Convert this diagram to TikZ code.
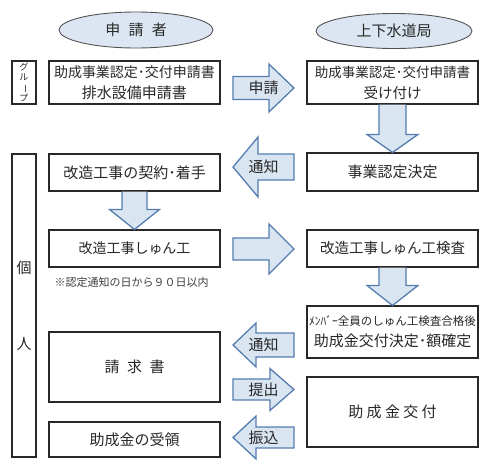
\documentclass[tikz,border=0pt]{standalone}
\usepackage{fontspec}
\setmainfont{Noto Sans CJK JP}
\usetikzlibrary{calc,positioning,shapes.geometric}
\definecolor{sumi}{RGB}{40,40,40}
\definecolor{yajiblue}{RGB}{85,125,175}
\definecolor{yajifill}{RGB}{218,229,242}
\definecolor{daenfill}{RGB}{220,230,242}
\tikzset{
  hako/.style={
    draw=sumi,
    line width=1.1pt,
    fill=white,
    minimum width=171pt,
    align=center,
    inner sep=2pt,
    text=sumi,
    font=\fontsize{15}{21}\selectfont
  },
  tate/.style={
    draw=sumi,
    line width=1.1pt,
    minimum width=24pt,
    align=center,
    inner sep=0pt,
    text=sumi
  },
  daen/.style={
    ellipse,
    draw=sumi!80,
    line width=0.9pt,
    fill=daenfill,
    inner sep=0pt,
    text=sumi,
    font=\fontsize{15}{18}\selectfont
  },
  yaji/.style={
    draw=yajiblue,
    line width=1.3pt,
    fill=yajifill
  },
  yajimoji/.style={
    inner sep=0pt,
    text=sumi,
    font=\fontsize{15}{18}\selectfont
  },
  chui/.style={
    inner sep=0pt,
    text=sumi!90,
    font=\fontsize{11}{13}\selectfont
  }
}
% block arrows: from, to, y, half shaft, half head, head length, name, label
\newcommand{\migiyaji}[8]{%
  \draw[yaji] let \p1=(#1.east), \p2=(#2.west), \p3=(0,#3) in
    (\x1+12.5pt,\y3+#4pt) -- (\x2-12.5pt-#6pt,\y3+#4pt) -- (\x2-12.5pt-#6pt,\y3+#5pt)
    -- (\x2-12.5pt,\y3) -- (\x2-12.5pt-#6pt,\y3-#5pt) -- (\x2-12.5pt-#6pt,\y3-#4pt)
    -- (\x1+12.5pt,\y3-#4pt) -- cycle
    ({(\x1+\x2)/2},\y3) node[yajimoji] (#7) {#8};}
\newcommand{\hidariyaji}[8]{%
  \draw[yaji] let \p1=(#1.east), \p2=(#2.west), \p3=(0,#3) in
    (\x2-12.5pt,\y3+#4pt) -- (\x1+12.5pt+#6pt,\y3+#4pt) -- (\x1+12.5pt+#6pt,\y3+#5pt)
    -- (\x1+12.5pt,\y3) -- (\x1+12.5pt+#6pt,\y3-#5pt) -- (\x1+12.5pt+#6pt,\y3-#4pt)
    -- (\x2-12.5pt,\y3-#4pt) -- cycle
    ({(\x1+\x2)/2},\y3) node[yajimoji] (#7) {#8};}
% from, to, half shaft, half head, head length
\newcommand{\shitayaji}[5]{%
  \draw[yaji] let \p1=(#1.south), \p2=(#2.north) in
    (\x1-#3pt,\y1) -- (\x1-#3pt,\y2+#5pt) -- (\x1-#4pt,\y2+#5pt) -- (\x1,\y2)
    -- (\x1+#4pt,\y2+#5pt) -- (\x1+#3pt,\y2+#5pt) -- (\x1+#3pt,\y1);}

\begin{document}
\begin{tikzpicture}[x=1pt,y=-1pt]
\useasboundingbox (0,0) rectangle (499,475);
\node[daen, minimum width=154pt, minimum height=36pt] (shinseisha) at (136,30) {申\hspace{.55em}請\hspace{.55em}者};
\node[daen, minimum width=156pt, minimum height=35pt] (suidokyoku) at (394,31) {上下水道局};

\node[tate, minimum height=43pt, font=\fontsize{9}{10.5}\selectfont] (group) at (24,82.5) {グ\\ル\\\rotatebox[origin=c]{-90}{ー}\\プ};
\node[tate, minimum height=303pt, font=\fontsize{15}{76}\selectfont] (kojin) at (24,305.5) {個\\人};

% applicant side
\node[hako, minimum height=43pt] (shinsei) at (134.5,82.5) {{\fontsize{14}{21}\selectfont 助成事業認定･交付申請書}\\排水設備申請書};
\node[hako, minimum height=37pt] (keiyaku) at (134.5,172.5) {改造工事の契約･着手};
\node[hako, minimum height=37pt, font=\fontsize{14}{21}\selectfont] (kanko) at (134.5,248.5) {改造工事しゅん工};
\node[chui, below right=9pt and 6pt of kanko.south west] (chuui) {※認定通知の日から９０日以内};
\node[hako, minimum height=70pt] (seikyu) at (134.5,367) {請\hspace{.5em}求\hspace{.5em}書};
\node[hako, minimum height=35pt] (juryo) at (134.5,439.5) {助成金の受領};

% water works side
\node[hako, minimum height=43pt] (uketsuke) at (392.5,82.5) {{\fontsize{13.5}{21}\selectfont 助成事業認定･交付申請書}\\{\fontsize{14.5}{21}\selectfont 受け付け}};
\node[hako, minimum height=38pt] (kettei) at (392.5,172) {事業認定決定};
\node[hako, minimum height=37pt, font=\fontsize{14.5}{21}\selectfont] (kensa) at (392.5,248.5) {改造工事しゅん工検査};
\node[hako, minimum height=52pt] (gakukakutei) at (392.5,332) {{\fontsize{11.5}{26}\selectfont ﾒﾝﾊﾞｰ全員のしゅん工検査合格後}\\助成金交付決定･額確定};
\node[hako, minimum height=70pt] (kofu) at (392.5,412) {助 成 金 交 付};

\migiyaji{shinsei}{uketsuke}{88}{11.5}{24}{25}{m-shinsei}{申請}
\hidariyaji{keiyaku}{kettei}{167}{13}{30}{25}{m-tsuchi}{通知}
\migiyaji{kanko}{kensa}{249}{11}{25}{25}{m-kensa}{}
\hidariyaji{seikyu}{gakukakutei}{345}{12}{22}{23}{m-tsuchi2}{通知}
\migiyaji{seikyu}{kofu}{389.5}{10.5}{21}{24}{m-teishutsu}{提出}
\hidariyaji{juryo}{kofu}{437.5}{10.5}{21.5}{23}{m-furikomi}{振込}
\shitayaji{uketsuke}{kettei}{13.5}{25.5}{18}
\shitayaji{keiyaku}{kanko}{12.5}{25}{20}
\shitayaji{kensa}{gakukakutei}{13.5}{25.5}{20}
\end{tikzpicture}
\end{document}
